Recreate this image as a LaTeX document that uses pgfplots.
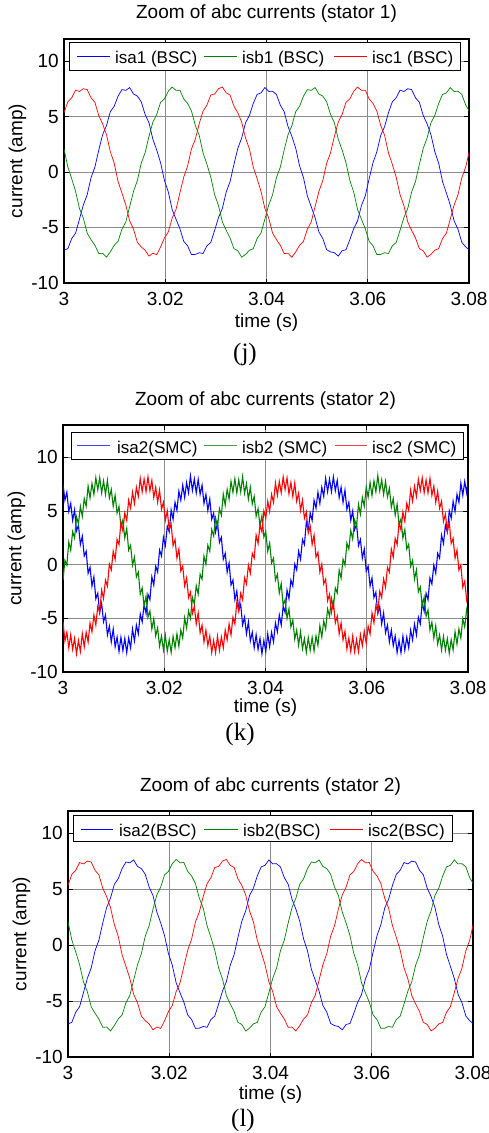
\documentclass[border=0pt]{standalone}
\usepackage{pgfplots}
\pgfplotsset{compat=1.18}
\usepackage{pgfplotstable}
\usepackage{fontspec}
\setmainfont{Liberation Sans}
\newfontfamily\capfont{Liberation Serif}

\definecolor{mblue}{rgb}{0,0,1}
\definecolor{mgreen}{rgb}{0,0.5,0}
\definecolor{mred}{rgb}{1,0,0}
\definecolor{lblue}{rgb}{0.25,0.25,1}
\definecolor{lgreen}{rgb}{0.25,0.62,0.25}
\definecolor{lred}{rgb}{1,0.25,0.25}

% stator currents, backstepping control (panels j and l)
\pgfplotstableread{
t a b c
3.000000 -7.04 2.09 5.35
3.000763 -6.90 0.45 6.34
3.001526 -5.99 -0.60 6.70
3.002289 -5.50 -1.74 7.39
3.003052 -4.25 -3.27 7.27
3.003815 -2.97 -4.15 7.52
3.004578 -2.04 -5.50 7.44
3.005341 -0.50 -6.09 6.70
3.006104 0.45 -6.60 6.29
3.006867 1.99 -7.34 5.10
3.007630 3.37 -7.32 4.35
3.008393 4.20 -7.67 3.37
3.009156 5.45 -7.19 1.84
3.009919 5.94 -6.60 0.80
3.010682 6.85 -6.24 -0.85
3.011445 7.44 -5.15 -1.89
3.012208 7.37 -4.50 -2.97
3.012971 7.62 -3.12 -4.40
3.013734 7.04 -1.74 -5.15
3.014497 6.85 -0.75 -6.34
3.015260 6.34 0.80 -6.75
3.016023 5.20 1.74 -7.04
3.016786 4.45 3.22 -7.57
3.017549 2.97 4.50 -7.32
3.018312 1.99 5.20 -7.44
3.019075 0.85 6.29 -6.75
3.019838 -0.75 6.60 -5.94
3.020601 -1.79 7.29 -5.40
3.021364 -3.37 7.67 -4.15
3.022127 -4.25 7.37 -3.37
3.022890 -5.10 7.39 -1.89
3.023653 -6.24 6.60 -0.45
3.024416 -6.65 6.19 0.55
3.025179 -7.44 5.50 2.09
3.025942 -7.42 4.20 2.97
3.026705 -7.27 3.32 4.35
3.027468 -7.34 1.74 5.50
3.028231 -6.65 0.70 6.04
3.028994 -6.34 -0.45 6.95
3.029757 -5.25 -2.04 7.04
3.030520 -4.10 -3.02 7.52
3.031283 -3.27 -4.50 7.67
3.032046 -1.79 -5.25 7.14
3.032809 -0.85 -5.94 6.95
3.033572 0.70 -6.90 5.94
3.034335 2.14 -7.09 5.35
3.035098 3.07 -7.67 4.50
3.035861 4.45 -7.42 3.07
3.036624 5.10 -7.04 2.09
3.037387 6.19 -6.90 0.45
3.038150 7.00 -5.99 -0.60
3.038913 7.14 -5.50 -1.74
3.039676 7.62 -4.25 -3.27
3.040439 7.27 -2.97 -4.15
3.041202 7.29 -2.04 -5.50
3.041965 7.00 -0.50 -6.09
3.042728 6.04 0.45 -6.60
3.043491 5.45 1.99 -7.34
3.044254 4.10 3.37 -7.32
3.045017 3.22 4.20 -7.67
3.045780 2.14 5.45 -7.19
3.046543 0.55 5.94 -6.60
3.047306 -0.50 6.85 -6.24
3.048069 -2.14 7.44 -5.15
3.048832 -3.12 7.37 -4.50
3.049595 -4.10 7.62 -3.12
3.050358 -5.40 7.04 -1.74
3.051121 -5.99 6.85 -0.75
3.051884 -7.00 6.34 0.80
3.052647 -7.19 5.20 1.74
3.053410 -7.27 4.45 3.22
3.054173 -7.57 2.97 4.50
3.054936 -7.09 1.99 5.20
3.055699 -7.00 0.85 6.29
3.056462 -6.09 -0.75 6.60
3.057225 -5.10 -1.79 7.29
3.057988 -4.40 -3.37 7.67
3.058751 -3.02 -4.25 7.37
3.059514 -2.14 -5.10 7.39
3.060277 -0.60 -6.24 6.60
3.061040 0.85 -6.65 6.19
3.061803 1.84 -7.44 5.50
3.062566 3.32 -7.42 4.20
3.063329 4.10 -7.27 3.32
3.064092 5.35 -7.34 1.74
3.064855 6.34 -6.65 0.70
3.065618 6.70 -6.34 -0.45
3.066381 7.39 -5.25 -2.04
3.067144 7.27 -4.10 -3.02
3.067907 7.52 -3.27 -4.50
3.068670 7.44 -1.79 -5.25
3.069433 6.70 -0.85 -5.94
3.070196 6.29 0.70 -6.90
3.070959 5.10 2.14 -7.09
3.071722 4.35 3.07 -7.67
3.072485 3.37 4.45 -7.42
3.073248 1.84 5.10 -7.04
3.074011 0.80 6.19 -6.90
3.074774 -0.85 7.00 -5.99
3.075537 -1.89 7.14 -5.50
3.076300 -2.97 7.62 -4.25
3.077063 -4.40 7.27 -2.97
3.077826 -5.15 7.29 -2.04
3.078589 -6.34 7.00 -0.50
3.079352 -6.75 6.04 0.45
3.080115 -7.04 5.45 1.99
}\tabBSC

% stator 2 currents, sliding mode control (panel k)
\pgfplotstableread{
t a b c
3.0000000 7.50 -1.45 -5.34
3.0003815 6.00 0.40 -7.10
3.0007630 6.74 -0.05 -6.30
3.0011445 4.95 2.10 -7.75
3.0015260 5.70 1.34 -6.54
3.0019075 4.12 3.07 -7.89
3.0022890 5.10 2.47 -6.87
3.0026705 3.15 4.45 -8.30
3.0030520 3.67 3.80 -7.07
3.0034335 1.87 5.42 -8.09
3.0038150 2.64 4.50 -6.44
3.0041965 0.80 6.15 -7.65
3.0045780 1.25 5.44 -6.30
3.0049595 -0.80 7.30 -7.20
3.0053410 -0.25 6.20 -5.44
3.0057225 -2.00 7.55 -6.25
3.0061040 -1.14 6.54 -4.70
3.0064855 -3.17 8.09 -5.62
3.0068670 -2.67 6.97 -3.90
3.0072485 -4.45 8.10 -4.45
3.0076300 -3.60 6.67 -2.37
3.0080115 -5.32 7.79 -3.17
3.0083930 -4.70 6.54 -1.44
3.0087745 -6.55 7.85 -2.00
3.0091560 -5.74 6.20 0.05
3.0095375 -7.20 7.00 -0.50
3.0099190 -6.00 5.44 1.25
3.0103005 -7.65 6.45 0.50
3.0106820 -6.74 4.80 2.34
3.0110635 -8.09 5.42 1.87
3.0114450 -6.77 3.50 3.97
3.0118265 -8.00 4.15 3.15
3.0122080 -6.87 2.47 4.80
3.0125895 -8.19 3.37 4.12
3.0129710 -6.84 1.34 6.00
3.0133525 -7.75 1.80 5.25
3.0137340 -6.00 -0.05 6.74
3.0141155 -7.10 0.70 5.70
3.0144970 -5.64 -1.15 7.20
3.0148785 -6.45 -0.70 6.35
3.0152600 -4.60 -2.74 8.04
3.0156415 -5.32 -2.17 6.79
3.0160230 -3.70 -3.87 7.97
3.0164045 -4.55 -2.95 6.80
3.0167860 -2.77 -4.90 8.17
3.0171675 -3.27 -4.32 6.89
3.0175490 -1.14 -6.00 7.84
3.0179305 -1.90 -5.05 6.25
3.0183120 -0.15 -6.64 7.20
3.0186935 -0.70 -5.90 5.80
3.0190750 1.35 -7.60 6.94
3.0194565 0.80 -6.65 5.15
3.0198380 2.54 -7.94 5.80
3.0202195 1.77 -6.59 4.12
3.0206010 3.57 -8.07 5.00
3.0209825 3.05 -7.00 3.25
3.0213640 5.10 -8.17 3.77
3.0217455 4.22 -6.69 1.77
3.0221270 5.80 -7.74 2.34
3.0225085 5.05 -6.45 0.60
3.0228900 6.84 -7.60 1.45
3.0232715 6.00 -6.10 -0.60
3.0236530 7.40 -6.84 -0.15
3.0240345 6.25 -4.95 -2.00
3.0244160 7.64 -5.90 -1.24
3.0247975 6.69 -4.32 -3.07
3.0251790 8.27 -5.00 -2.57
3.0255605 6.90 -3.05 -4.55
3.0259420 7.97 -3.67 -3.90
3.0263235 6.69 -1.97 -5.52
3.0267050 7.94 -2.74 -4.50
3.0270865 6.55 -0.90 -6.35
3.0274680 7.40 -1.35 -5.64
3.0278495 5.70 0.80 -7.20
3.0282310 6.54 0.05 -6.10
3.0286125 5.05 1.80 -7.55
3.0289940 6.10 1.24 -6.64
3.0293755 4.22 3.27 -8.19
3.0297570 4.80 2.67 -7.07
3.0301385 3.05 4.35 -8.20
3.0305200 3.87 3.50 -6.67
3.0309015 2.07 5.22 -7.99
3.0312830 2.54 4.60 -6.74
3.0316645 0.50 6.55 -7.75
3.0320460 1.05 5.54 -6.10
3.0324275 -0.70 7.00 -7.00
3.0328090 0.15 6.10 -5.54
3.0331905 -1.90 7.75 -6.55
3.0335720 -1.44 6.74 -4.90
3.0339535 -3.27 7.99 -5.52
3.0343350 -2.47 6.67 -3.50
3.0347165 -4.25 7.90 -4.35
3.0350980 -3.70 6.77 -2.67
3.0354795 -5.62 8.19 -3.27
3.0358610 -4.90 6.64 -1.24
3.0362425 -6.45 7.55 -1.80
3.0366240 -5.34 6.10 -0.05
3.0370055 -7.10 7.20 -0.80
3.0373870 -6.30 5.64 1.05
3.0377685 -7.75 6.35 0.60
3.0381500 -6.54 4.50 2.74
3.0385315 -7.89 5.22 1.97
3.0389130 -6.87 3.60 3.67
3.0392945 -8.30 4.55 3.05
3.0396760 -7.07 2.57 5.00
3.0400575 -8.09 3.07 4.32
3.0404390 -6.44 1.24 5.90
3.0408205 -7.65 2.00 4.95
3.0412020 -6.30 0.15 6.54
3.0415835 -7.20 0.60 5.80
3.0419650 -5.44 -1.45 7.60
3.0423465 -6.25 -0.90 6.45
3.0427280 -4.70 -2.64 7.74
3.0431095 -5.62 -1.77 6.69
3.0434910 -3.90 -3.77 8.17
3.0438725 -4.45 -3.25 7.00
3.0442540 -2.37 -5.00 8.07
3.0446355 -3.17 -4.12 6.59
3.0450170 -1.44 -5.80 7.64
3.0453985 -2.00 -5.15 6.35
3.0457800 0.05 -6.94 7.60
3.0461615 -0.50 -6.10 5.90
3.0465430 1.25 -7.50 6.64
3.0469245 0.50 -6.25 5.05
3.0473060 2.34 -7.84 6.00
3.0476875 1.87 -6.89 4.32
3.0480690 3.97 -8.17 4.90
3.0484505 3.15 -6.80 2.95
3.0488320 4.80 -7.97 3.57
3.0492135 4.12 -6.79 1.87
3.0495950 6.00 -8.04 2.74
3.0499765 5.25 -6.65 0.70
3.0503580 6.74 -7.50 1.15
3.0507395 5.70 -5.70 -0.70
3.0511210 7.20 -6.74 0.05
3.0515025 6.35 -5.25 -1.80
3.0518840 8.04 -6.00 -1.34
3.0522655 6.79 -4.12 -3.37
3.0526470 7.97 -4.80 -2.77
3.0530285 6.80 -3.15 -4.45
3.0534100 8.17 -3.97 -3.50
3.0537915 6.89 -2.17 -5.42
3.0541730 7.84 -2.64 -4.80
3.0545545 6.25 -0.50 -6.45
3.0549360 7.20 -1.25 -5.44
3.0553175 5.80 0.50 -7.00
3.0556990 6.94 -0.05 -6.20
3.0560805 5.15 2.00 -7.85
3.0564620 5.80 1.44 -6.84
3.0568435 4.12 3.17 -8.09
3.0572250 5.00 2.37 -6.67
3.0576065 3.25 4.15 -8.10
3.0579880 3.77 3.60 -6.97
3.0583695 1.77 5.62 -8.09
3.0587510 2.34 4.70 -6.54
3.0591325 0.60 6.25 -7.55
3.0595140 1.45 5.44 -6.20
3.0598955 -0.60 7.20 -7.30
3.0602770 -0.15 6.30 -5.74
3.0606585 -2.00 7.65 -6.45
3.0610400 -1.24 6.44 -4.50
3.0614215 -3.07 7.79 -5.42
3.0618030 -2.57 6.77 -3.80
3.0621845 -4.55 8.30 -4.45
3.0625660 -3.90 6.87 -2.47
3.0629475 -5.52 7.89 -3.07
3.0633290 -4.50 6.54 -1.34
3.0637105 -6.35 7.75 -2.10
3.0640920 -5.64 6.30 -0.25
3.0644735 -7.20 7.10 -0.70
3.0648550 -6.10 5.34 1.45
3.0652365 -7.55 6.15 0.70
3.0656180 -6.64 4.60 2.44
3.0659995 -8.19 5.62 1.87
3.0663810 -7.07 3.70 3.87
3.0667625 -8.20 4.25 3.25
3.0671440 -6.67 2.47 4.90
3.0675255 -7.99 3.27 4.02
3.0679070 -6.74 1.44 5.70
3.0682885 -7.75 1.90 5.05
3.0686700 -6.10 -0.15 6.94
3.0690515 -7.00 0.40 5.90
3.0694330 -5.54 -1.35 7.30
3.0698145 -6.55 -0.50 6.35
3.0701960 -4.90 -2.54 7.94
3.0705775 -5.52 -2.07 6.89
3.0709590 -3.50 -3.87 8.07
3.0713405 -4.35 -3.05 6.70
3.0717220 -2.67 -4.80 7.87
3.0721035 -3.27 -4.22 6.69
3.0724850 -1.24 -6.10 8.04
3.0728665 -1.80 -5.35 6.45
3.0732480 -0.05 -6.84 7.30
3.0736295 -0.80 -5.70 5.80
3.0740110 1.05 -7.40 6.84
3.0743925 0.60 -6.55 5.25
3.0747740 2.74 -7.94 5.90
3.0751555 1.97 -6.69 4.02
3.0755370 3.67 -7.97 4.70
3.0759185 3.05 -6.90 3.05
3.0763000 5.00 -8.27 3.97
3.0766815 4.32 -6.99 1.97
3.0770630 5.90 -7.94 2.44
3.0774445 4.95 -6.25 0.60
3.0778260 6.54 -7.40 1.35
3.0782075 5.80 -6.00 -0.50
3.0785890 7.60 -6.84 -0.05
3.0789705 6.45 -5.05 -2.10
3.0793520 7.74 -5.80 -1.54
3.0797335 6.69 -4.22 -3.27
3.0801150 8.17 -5.10 -2.37
}\tabSMC

\pgfplotsset{
  common/.style={
    scale only axis, width=405pt,
    xmin=3, xmax=3.08,
    xtick={3,3.02,3.04,3.06,3.08}, xticklabels={3,3.02,3.04,3.06,3.08},
    ymin=-10, ytick={-10,-5,0,5,10}, yticklabels={-10,-5,0,5,10},
    grid=major, major grid style={draw=black!45, line width=0.7pt},
    axis line style={line width=1.2pt},
    tick align=inside, major tick length=4.5pt, tick style={draw=black, line width=0.8pt},
    /pgf/number format/assume math mode=true,
    tick label style={font=\fontsize{19}{19}\selectfont},
    xticklabel style={anchor=base, yshift=-22pt},
    yticklabel style={anchor=east, inner sep=0pt, xshift=-5pt},
    title style={font=\fontsize{19}{19}\selectfont, at={(axis description cs:0.5,1)}, anchor=base},
    xlabel={time (s)}, ylabel={current (amp)},
    every axis x label/.style={at={(axis description cs:0.5,0)}, anchor=base,
      font=\fontsize{19}{19}\selectfont},
    every axis y label/.style={at={(axis description cs:-0.115,0.5)}, rotate=90, anchor=center,
      font=\fontsize{19}{19}\selectfont},
  },
}
\tikzset{lgtext/.style={anchor=base west, inner sep=0pt, font=\fontsize{17}{17}\selectfont}}

\begin{document}
\begin{tikzpicture}
\path[use as bounding box] (0pt,0pt) rectangle (489pt,-1133pt);

% (j)
\begin{axis}[common, at={(64pt,-283pt)}, anchor=south west, height=244pt, ymax=12,
  title={Zoom of abc currents (stator 1)}, title style={yshift=15pt},
  xlabel style={yshift=-44pt}]
\addplot[draw=mblue, line width=0.7pt] table[x=t, y=a] {\tabBSC};
\addplot[draw=mgreen, line width=0.7pt] table[x=t, y=b] {\tabBSC};
\addplot[draw=mred, line width=0.7pt] table[x=t, y=c] {\tabBSC};
% legend
\draw[draw=black, line width=0.8pt, fill=white] (axis description cs:0.0123,0.9877) rectangle (axis description cs:0.9777,0.8729);
\addplot[draw=mblue, line width=0.7pt, forget plot] coordinates {(3.002568,10.42) (3.009086,10.42)};
\addplot[draw=mgreen, line width=0.7pt, forget plot] coordinates {(3.027654,10.42) (3.034173,10.42)};
\addplot[draw=mred, line width=0.7pt, forget plot] coordinates {(3.053333,10.42) (3.059852,10.42)};
\node[lgtext] at (axis description cs:0.1259,0.9016) {isa1 (BSC)};
\node[lgtext] at (axis description cs:0.4395,0.9016) {isb1 (BSC)};
\node[lgtext] at (axis description cs:0.7605,0.9016) {isc1 (BSC)};
\end{axis}
\node[font=\capfont\fontsize{25}{25}\selectfont, anchor=base] at (245pt,-360pt) {(j)};

% (k)
\begin{axis}[common, at={(63pt,-672pt)}, anchor=south west, height=247pt, ymax=13,
  title={Zoom of abc currents (stator 2)}, title style={yshift=14pt},
  xlabel style={yshift=-40pt}]
\addplot[draw=mblue, line width=1.1pt] table[x=t, y=a] {\tabSMC};
\addplot[draw=mgreen, line width=1.1pt] table[x=t, y=b] {\tabSMC};
\addplot[draw=mred, line width=1.1pt] table[x=t, y=c] {\tabSMC};
% legend
\draw[draw=black, line width=0.8pt, fill=white] (axis description cs:0.0197,0.9717) rectangle (axis description cs:0.9876,0.8624);
\fill[lblue] (axis cs:3.002765,11.01) rectangle (axis cs:3.009284,11.13);
\fill[lgreen] (axis cs:3.027852,11.01) rectangle (axis cs:3.034370,11.13);
\fill[lred] (axis cs:3.053728,11.01) rectangle (axis cs:3.060049,11.13);
\node[lgtext] at (axis description cs:0.1333,0.8866) {isa2(SMC)};
\node[lgtext] at (axis description cs:0.4420,0.8866) {isb2 (SMC)};
\node[lgtext] at (axis description cs:0.7630,0.8866) {isc2 (SMC)};
\end{axis}
\node[font=\capfont\fontsize{25}{25}\selectfont, anchor=base] at (240pt,-740pt) {(k)};

% (l)
\begin{axis}[common, at={(68pt,-1057pt)}, anchor=south west, height=246pt, ymax=12,
  title={Zoom of abc currents (stator 2)}, title style={yshift=14pt},
  xlabel style={yshift=-42pt}]
\addplot[draw=mblue, line width=0.7pt] table[x=t, y=a] {\tabBSC};
\addplot[draw=mgreen, line width=0.7pt] table[x=t, y=b] {\tabBSC};
\addplot[draw=mred, line width=0.7pt] table[x=t, y=c] {\tabBSC};
% legend
\draw[draw=black, line width=0.8pt, fill=white] (axis description cs:0.0123,0.9837) rectangle (axis description cs:0.9481,0.8780);
\fill[mblue] (axis cs:3.002568,10.36) rectangle (axis cs:3.008889,10.42);
\fill[mgreen] (axis cs:3.026864,10.36) rectangle (axis cs:3.033580,10.42);
\fill[mred] (axis cs:3.051753,10.36) rectangle (axis cs:3.058272,10.42);
\node[lgtext] at (axis description cs:0.1259,0.8984) {isa2(BSC)};
\node[lgtext] at (axis description cs:0.4321,0.8984) {isb2(BSC)};
\node[lgtext] at (axis description cs:0.7407,0.8984) {isc2(BSC)};
\end{axis}
\node[font=\capfont\fontsize{25}{25}\selectfont, anchor=base] at (243pt,-1126pt) {(l)};
\end{tikzpicture}
\end{document}
